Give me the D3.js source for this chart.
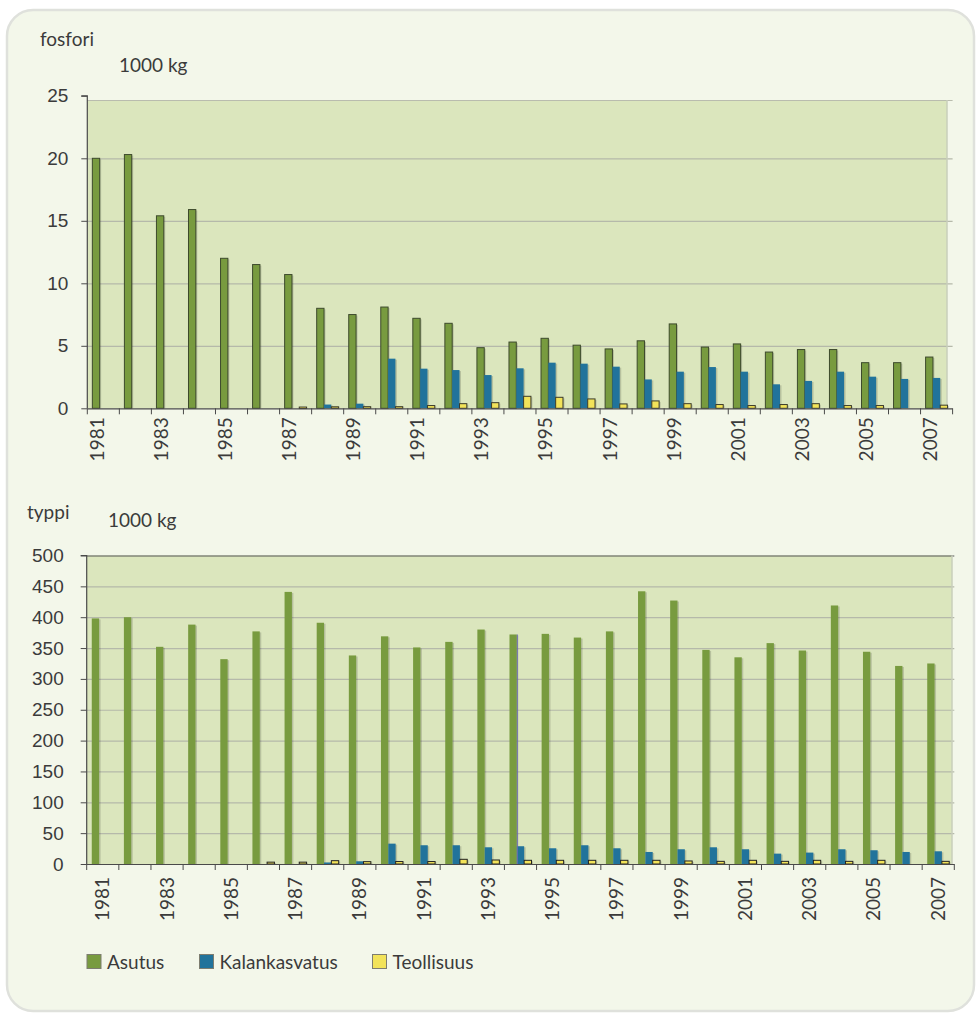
<!DOCTYPE html>
<html>
<head>
<meta charset="utf-8">
<script src="https://cdn.jsdelivr.net/npm/d3@7"></script>
<style>
  html, body { margin: 0; padding: 0; background: #ffffff; }
  svg { display: block; font-family: Lato, "Open Sans", sans-serif; }
</style>
</head>
<body>
<svg id="chart" width="980" height="1014"></svg>
<script>
// Vuosittaiset kuormitukset, 1000 kg
const years = d3.range(1981, 2008);
const yearLabels = years.filter((y, i) => i % 2 === 0);
const seriesNames = ["Asutus", "Kalankasvatus", "Teollisuus"];
const seriesColors = ["#789b3f", "#21739b", "#f2e35a"];

// fosfori
const pAsutus = [20.0, 20.3, 15.4, 15.9, 12.0, 11.5, 10.7, 8.0, 7.5, 8.1, 7.2, 6.8, 4.85, 5.3,
  5.6, 5.05, 4.75, 5.4, 6.75, 4.9, 5.15, 4.5, 4.7, 4.7, 3.65, 3.65, 4.1];
const pKalankasvatus = [0, 0, 0, 0, 0, 0, 0, 0.3, 0.37, 3.97, 3.17, 3.06, 2.66, 3.2,
  3.65, 3.57, 3.33, 2.31, 2.93, 3.3, 2.93, 1.92, 2.19, 2.93, 2.53, 2.35, 2.43];
const pTeollisuus = [0, 0, 0, 0, 0, 0, 0.1, 0.12, 0.13, 0.13, 0.22, 0.37, 0.45, 0.96,
  0.88, 0.75, 0.35, 0.59, 0.37, 0.3, 0.22, 0.3, 0.37, 0.22, 0.22, 0, 0.25];

// typpi
const nAsutus = [398, 400, 352, 388, 332, 377, 441, 391, 338, 369, 351, 360, 380, 372,
  373, 367, 377, 442, 427, 347, 335, 358, 346, 419, 344, 321, 325];
const nKalankasvatus = [0, 0, 0, 0, 0, 0, 0, 2.5, 4.4, 33, 30.4, 30.4, 27.1, 28.8,
  25.5, 30.4, 25.5, 19.5, 23.9, 27.1, 23.9, 16.8, 18.5, 23.9, 22.3, 19.5, 20.6];
const nTeollisuus = [0, 0, 0, 0, 0, 3, 3, 5.4, 3.8, 4, 4, 7.6, 6.5, 6,
  6, 6, 6, 6, 4.9, 4.3, 6, 4.3, 6, 4.3, 6, 0, 4.3];

const pTicks = [0, 5, 10, 15, 20, 25];
const nTicks = d3.range(0, 501, 50);

const svg = d3.select("#chart");
const textColor = "#3b3b3b";
const gridColor = "#b5b9aa";

// taustapaneeli
svg.append("rect")
  .attr("x", 7).attr("y", 10).attr("width", 967).attr("height", 1001)
  .attr("rx", 26).attr("ry", 26)
  .attr("fill", "#f3f7ea").attr("stroke", "#dfe1dc").attr("stroke-width", 2.5);

function drawPanel(cfg) {
  const g = svg.append("g");
  const x = d3.scaleBand().domain(years).range(cfg.xRange).paddingInner(0).paddingOuter(0);
  const y = d3.scaleLinear().domain(cfg.yDomain).range(cfg.yRange);
  const inner = d3.scaleBand().domain(seriesNames).range([0, x.bandwidth()]).paddingOuter(0.69);
  const y0 = y(0);

  // kuva-alue
  g.append("rect")
    .attr("x", cfg.xRange[0]).attr("y", cfg.plotTop)
    .attr("width", cfg.plotRight - cfg.xRange[0]).attr("height", y0 - cfg.plotTop)
    .attr("fill", "#dbe6bd");

  // vaakaviivat
  g.append("g").selectAll("line")
    .data(cfg.ticks.filter(t => t > 0))
    .join("line")
    .attr("x1", cfg.xRange[0]).attr("x2", cfg.xRange[1])
    .attr("y1", d => Math.max(y(d), cfg.plotTop) + 0.5)
    .attr("y2", d => Math.max(y(d), cfg.plotTop) + 0.5)
    .attr("stroke", d => (y(d) <= cfg.plotTop ? cfg.topBorder : gridColor))
    .attr("stroke-width", 1.2);

  // oikea reuna
  g.append("line")
    .attr("x1", cfg.plotRight).attr("x2", cfg.plotRight)
    .attr("y1", cfg.plotTop).attr("y2", y0)
    .attr("stroke", "#c9cfbb").attr("stroke-width", 1.5);

  // pylväät
  const seriesData = cfg.series;
  seriesNames.forEach((name, si) => {
    const vals = seriesData[si];
    const items = years.map((yr, i) => ({ yr, v: vals[i] })).filter(d => d.v > 0);
    const bx = d => x(d.yr) + inner(name);
    // varjo
    g.append("g").selectAll("rect")
      .data(items).join("rect")
      .attr("x", d => bx(d) + 1.5)
      .attr("y", d => y(d.v) + 1)
      .attr("width", inner.bandwidth())
      .attr("height", d => Math.max(0.5, y0 - y(d.v) - 1))
      .attr("fill", "#000").attr("opacity", 0.16);
    g.append("g").selectAll("rect")
      .data(items).join("rect")
      .attr("x", d => bx(d))
      .attr("y", d => y(d.v))
      .attr("width", inner.bandwidth())
      .attr("height", d => Math.max(1.5, y0 - y(d.v)))
      .attr("fill", seriesColors[si])
      .attr("stroke", cfg.strokes[si])
      .attr("stroke-width", cfg.strokes[si] === "none" ? 0 : 1);
  });

  // y-akseli
  const yAxis = d3.axisLeft(y).tickValues(cfg.ticks).tickSize(6).tickPadding(cfg.yPad)
    .tickFormat(d3.format("d"));
  const ya = g.append("g").attr("transform", `translate(${cfg.xRange[0]},0)`).call(yAxis);
  ya.select(".domain").attr("stroke", "#4a4a4a").attr("stroke-width", 1.2)
    .attr("d", `M-6,${y(cfg.yDomain[1])}H0V${y0}`);
  ya.selectAll(".tick line").attr("stroke", "#4a4a4a");
  ya.selectAll(".tick text").attr("fill", textColor).attr("font-size", 19);

  // x-akseli
  const xa = g.append("g");
  xa.append("line")
    .attr("x1", cfg.xRange[0]).attr("x2", cfg.xRange[1])
    .attr("y1", y0 + 0.5).attr("y2", y0 + 0.5)
    .attr("stroke", "#4a4a4a").attr("stroke-width", 1.2);
  xa.selectAll("line.tick")
    .data(years.concat([null]))
    .join("line").attr("class", "tick")
    .attr("x1", (d, i) => cfg.xRange[0] + i * x.step())
    .attr("x2", (d, i) => cfg.xRange[0] + i * x.step())
    .attr("y1", y0).attr("y2", y0 + 6)
    .attr("stroke", "#4a4a4a").attr("stroke-width", 1);
  xa.selectAll("text")
    .data(yearLabels)
    .join("text")
    .attr("transform", d => `translate(${x(d) + x.bandwidth() / 2 + cfg.labelShift},${y0 + cfg.labelGap}) rotate(-90)`)
    .attr("text-anchor", "end")
    .attr("dominant-baseline", "central")
    .attr("font-size", 19)
    .attr("fill", textColor)
    .text(d => d);

  // otsikot
  g.append("text").attr("x", cfg.title[0]).attr("y", cfg.title[1])
    .attr("font-size", 19).attr("fill", textColor).text(cfg.titleText);
  g.append("text").attr("x", cfg.unit[0]).attr("y", cfg.unit[1])
    .attr("font-size", 19).attr("fill", textColor).text("1000 kg");

  return { x, y, inner };
}

drawPanel({
  xRange: [87.3, 952.6], plotRight: 947, plotTop: 100,
  yDomain: [0, 25], yRange: [408.3, 95.8], ticks: pTicks, yPad: 13,
  series: [pAsutus, pKalankasvatus, pTeollisuus],
  strokes: ["#3d4a2c", "none", "#3a3a2a"],
  topBorder: "#b9bcae",
  labelShift: -7, labelGap: 9,
  titleText: "fosfori", title: [40, 46], unit: [119, 72]
});

const nPanel = drawPanel({
  xRange: [86.7, 954.3], plotRight: 952, plotTop: 555.5,
  yDomain: [0, 500], yRange: [864, 555.5], ticks: nTicks, yPad: 17,
  series: [nAsutus, nKalankasvatus, nTeollisuus],
  strokes: ["none", "none", "#222222"],
  topBorder: "#555555",
  labelShift: -1, labelGap: 13,
  titleText: "typpi", title: [27, 519], unit: [108, 527]
});

// ohut pystyviiva vuoden 1994 asutuspylvään reunassa
{
  const i94 = years.indexOf(1994);
  const lx = nPanel.x(1994) + nPanel.inner("Asutus") + nPanel.inner.bandwidth() + 0.5;
  svg.append("line")
    .attr("x1", lx).attr("x2", lx)
    .attr("y1", nPanel.y(nAsutus[i94])).attr("y2", nPanel.y(0))
    .attr("stroke", "#6d6db0").attr("stroke-width", 1);
}

// selite
const legendX = [87, 199.5, 372.5];
const legend = svg.append("g");
seriesNames.forEach((name, i) => {
  legend.append("rect")
    .attr("x", legendX[i]).attr("y", 954.5).attr("width", 14).attr("height", 14)
    .attr("fill", seriesColors[i]).attr("stroke", "#7d7d70").attr("stroke-width", 1);
  legend.append("text")
    .attr("x", legendX[i] + 20).attr("y", 969)
    .attr("font-size", 19).attr("fill", textColor).text(name);
});
</script>
</body>
</html>
